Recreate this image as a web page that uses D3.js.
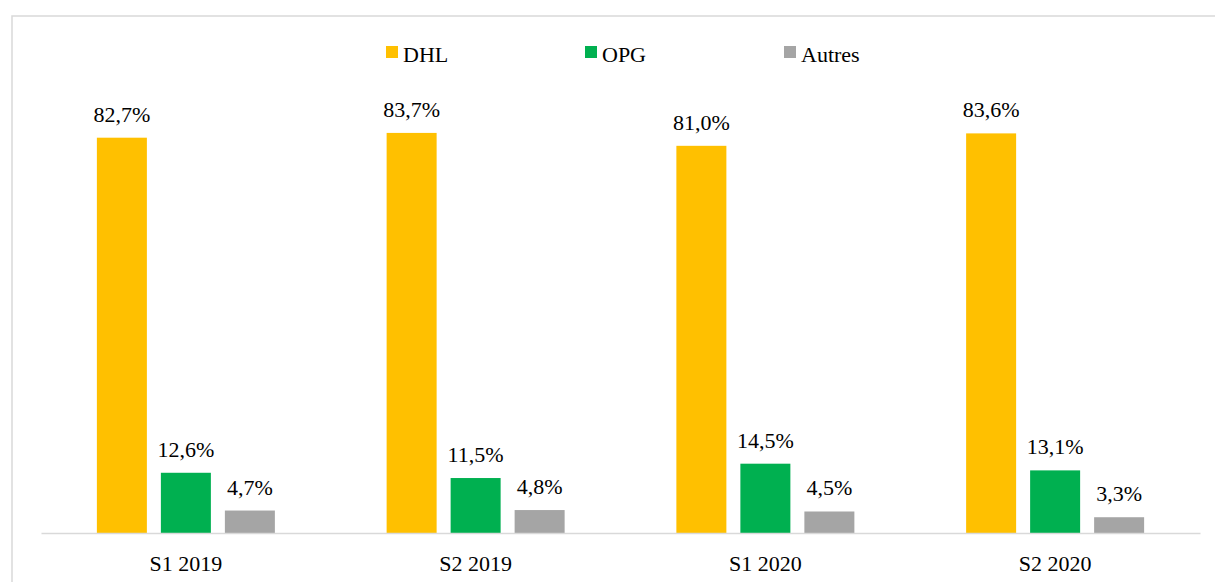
<!DOCTYPE html>
<html>
<head>
<meta charset="utf-8">
<script src="https://cdn.jsdelivr.net/npm/d3@7"></script>
<style>
	body { margin: 0; background: #fff; }
</style>
</head>
<body>
<div id="chart"></div>
<script>
var categories = ["S1 2019", "S2 2019", "S1 2020", "S2 2020"];
var seriesNames = ["DHL", "OPG", "Autres"];
var dhl = [82.7, 83.7, 81.0, 83.6];
var opg = [12.6, 11.5, 14.5, 13.1];
var autres = [4.7, 4.8, 4.5, 3.3];
var colors = ["#ffc000", "#00b050", "#a5a5a5"];

var W = 1215, H = 582;
var font = "'Liberation Serif', 'Times New Roman', serif",
	fontSize = 22;

var svg = d3.select("#chart")
	.append("svg")
	.attr("width", W)
	.attr("height", H)
	.attr("display", "block");

//	Chart frame (runs off the picture right and bottom)
svg.append("rect")
	.attr("x", 12)
	.attr("y", 16)
	.attr("width", W + 20)
	.attr("height", H + 20)
	.attr("fill", "none")
	.attr("stroke", "#d9d9d9")
	.attr("stroke-width", 1.5);

var x = d3.scaleBand()
	.domain(categories)
	.range([41, 1200]);

var y = d3.scaleLinear()
	.domain([0, 100])
	.range([533, 55]);

var barW = 50, step = 64;
var values = [dhl, opg, autres];

values.forEach(function(vals, s) {
	var g = svg.append("g");
	g.selectAll("rect")
		.data(vals)
		.enter().append("rect")
		.attr("x", function(d, i) { return x(categories[i]) + x.bandwidth() / 2 + (s - 1) * step - barW / 2; })
		.attr("y", function(d) { return y(d); })
		.attr("width", barW)
		.attr("height", function(d) { return y(0) - y(d); })
		.attr("fill", colors[s]);

	g.selectAll("text")
		.data(vals)
		.enter().append("text")
		.attr("x", function(d, i) { return x(categories[i]) + x.bandwidth() / 2 + (s - 1) * step; })
		.attr("y", function(d) { return y(d) - 16; })
		.attr("text-anchor", "middle")
		.attr("font-family", font)
		.attr("font-size", fontSize)
		.attr("fill", "#000")
		.text(function(d) { return d.toFixed(1).replace(".", ",") + "%"; });
});

//	Category axis
var axis = svg.append("g")
	.attr("transform", "translate(0," + y(0) + ")")
	.call(d3.axisBottom(x).tickSize(0).tickPadding(22));
axis.select(".domain").attr("stroke", "#d9d9d9").attr("stroke-width", 1.5);
axis.selectAll("text")
	.attr("font-size", fontSize)
	.attr("font-family", font)
	.attr("fill", "#000");
axis.attr("font-family", font).attr("font-size", fontSize);

//	Legend
var legendX = [386, 585, 784];
var legend = svg.append("g");
seriesNames.forEach(function(name, i) {
	legend.append("rect")
		.attr("x", legendX[i])
		.attr("y", 46)
		.attr("width", 12)
		.attr("height", 12)
		.attr("fill", colors[i]);
	legend.append("text")
		.attr("x", legendX[i] + 17)
		.attr("y", 62)
		.attr("font-family", font)
		.attr("font-size", fontSize)
		.attr("fill", "#000")
		.text(name);
});
</script>
</body>
</html>
